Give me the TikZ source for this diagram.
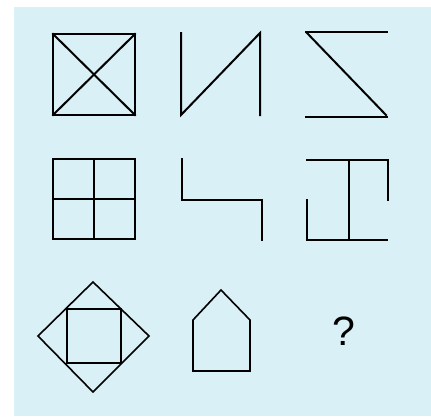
\documentclass[tikz,border=0pt]{standalone}
\usepackage{fontspec}
\setmainfont{Liberation Sans}
\usepackage{tikz}
\definecolor{panelBg}{RGB}{217,240,246}
\definecolor{figLine}{RGB}{0,0,0}

\begin{document}
\begin{tikzpicture}[x=1pt, y=-1pt,
        fig/.style={draw=figLine, line width=2pt, line cap=rect},
        figthin/.style={draw=figLine, line width=1.6pt, line join=miter},
        qmark/.style={font=\fontsize{41}{41}\selectfont, inner sep=0pt},
    ]
    \useasboundingbox (0,0) rectangle (431,416);
    \fill[panelBg] (14,7) rectangle (431,416);
    % row 1
    \draw[fig] (53,34) rectangle (135,115);
    \draw[fig] (53,34) -- (135,115);
    \draw[fig] (53,115) -- (135,34);
    \draw[fig] (181,33) -- (181,115) -- (260,33) -- (260,115);
    \draw[fig] (306,32) -- (387,32);
    \draw[fig] (307,33) -- (386,115);
    \draw[fig] (306,117) -- (387,117);
    % row 2
    \draw[fig] (53,159) rectangle (135,239);
    \draw[fig] (94,159) -- (94,239);
    \draw[fig] (53,199) -- (135,199);
    \draw[fig] (182,159) -- (182,200) -- (262,200) -- (262,240);
    \draw[fig] (307,160) -- (388,160) -- (388,200);
    \draw[fig] (349,160) -- (349,240);
    \draw[fig] (307,200) -- (307,240) -- (387,240);
    % row 3
    \draw[figthin] (38,336) -- (93,282) -- (149,336) -- (93,392) -- cycle;
    \draw[figthin] (67,309) rectangle (121,363);
    \draw[figthin] (193,371) -- (193,320) -- (221,290) -- (250,320) -- (250,371) -- cycle;
    \node[qmark] (ask) at (344,331) {?};
\end{tikzpicture}
\end{document}
